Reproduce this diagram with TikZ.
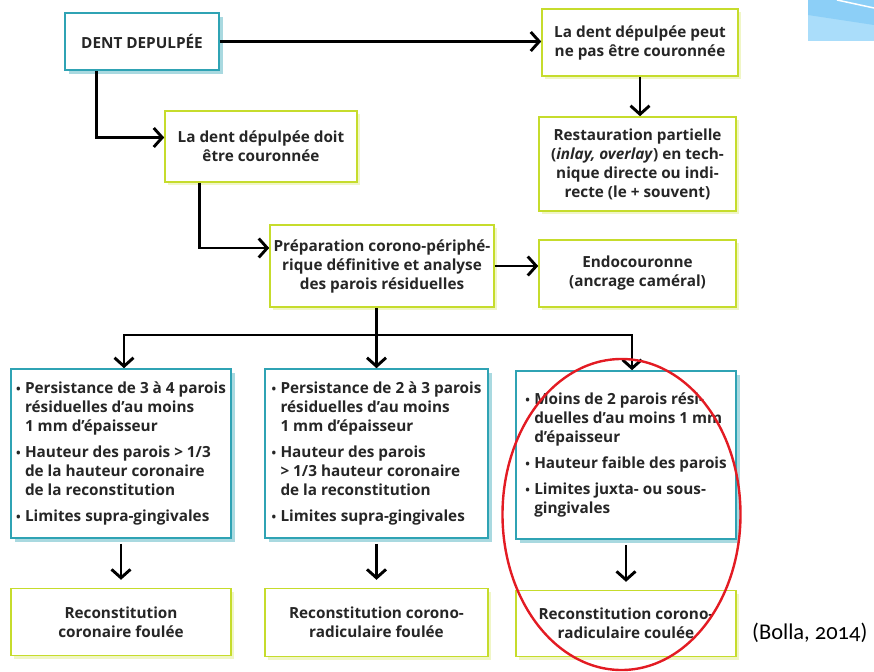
\documentclass[tikz,border=0pt]{standalone}
\usepackage{fontspec}
\setmainfont{Open Sans}
\newfontfamily\citefont{Carlito}[Numbers=OldStyle]
\usetikzlibrary{arrows.meta,positioning,shadows}
\definecolor{tealbord}{HTML}{2FA3B4}
\definecolor{limebord}{HTML}{C6DC2C}
\definecolor{rouge}{HTML}{E31B23}
\definecolor{bleufonce}{HTML}{8CCFF7}
\definecolor{bleuclair}{HTML}{AADDFA}
\newcommand{\puce}{\makebox[9pt][l]{\raisebox{0.5pt}{\scalebox{0.8}{\textbullet}}}}
\newcommand{\suite}{\hspace*{9pt}}
\tikzset{
    bloc/.style = {
        draw,
        line width=1.6pt,
        fill=white,
        align=center,
        text=black!85,
        font=\bfseries\fontsize{15.3}{19}\selectfont,
        inner xsep=2pt,
        },
    bloc teal/.style = {
        bloc,
        draw=tealbord,
        drop shadow={shadow xshift=4pt, shadow yshift=-4pt, fill=tealbord!75, opacity=0.55},
        },
    bloc lime/.style = {
        bloc,
        draw=limebord,
        drop shadow={shadow xshift=3pt, shadow yshift=-3pt, fill=limebord!60, opacity=0.45},
        },
    criteres/.style = {
        bloc teal,
        align=left,
        minimum width=220pt,
        minimum height=169pt,
        },
    fleche/.style = {
        -{Straight Barb[length=8.5pt,width=19pt]},
        line width=2.9pt,
        },
}
\begin{document}
\begin{tikzpicture}[
            x=1pt, y=-1pt,
            node distance=49pt
            ]
            \useasboundingbox (0,0) rectangle (874,671);

            % coin bleu
            \fill [bleuclair] (808,0) rectangle (874,41);
            \fill [bleufonce] (808,0) -- (874,0) -- (874,25) -- (808,15) -- cycle;
            \draw [white, line width=1.5pt] (837,0) -- (874,8);

            % Haut
            \node [bloc teal, minimum width=154pt, minimum height=57pt] (dent) at (142,41.5) {DENT DEPULPÉE};
            \node [bloc lime, minimum width=192pt, minimum height=71pt] (doit) at (261,146.5) {La dent dépulpée doit\\être couronnée};
            \node [bloc lime, minimum width=196pt, minimum height=67pt] (peut) at (640,42.5) {La dent dépulpée peut\\ne pas être couronnée};
            \node [bloc lime, minimum width=197pt, minimum height=94pt] (partielle) at (637.5,164) {Restauration partielle\\(\textit{inlay, overlay}) en tech-\\nique directe ou indi-\\recte (le + souvent)};
            \node [bloc lime, minimum width=224pt, minimum height=82pt] (prep) at (382,266) {Préparation corono-périphé-\\rique définitive et analyse\\des parois résiduelles};
            \node [bloc lime, minimum width=197pt, minimum height=67pt] (endo) at (637.5,273.5) {Endocouronne\\(ancrage caméral)};

            % Colonne 1
            \node [criteres] (c1) at (121,453.5) {\puce Persistance de 3 à 4 parois\\ \suite résiduelles d’au moins\\ \suite 1 mm d’épaisseur\\[7pt] \puce Hauteur des parois > 1/3\\ \suite de la hauteur coronaire\\ \suite de la reconstitution\\[7pt] \puce Limites supra-gingivales};
            \node [bloc lime, minimum width=220pt, minimum height=67pt, below=of c1] (r1) {Reconstitution\\coronaire foulée};

            % Colonne 2
            \node [criteres, minimum width=223pt] (c2) at (376.5,453.5) {\puce Persistance de 2 à 3 parois\\ \suite résiduelles d’au moins\\ \suite 1 mm d’épaisseur\\[7pt] \puce Hauteur des parois\\ \suite > 1/3 hauteur coronaire\\ \suite de la reconstitution\\[7pt] \puce Limites supra-gingivales};
            \node [bloc lime, minimum width=223pt, minimum height=68pt, below=of c2] (r2) {Reconstitution corono-\\radiculaire foulée};

            % Colonne 3
            \node [criteres, minimum height=168pt] (c3) at (626,455) {\puce Moins de 2 parois rési-\\ \suite duelles d’au moins 1 mm\\ \suite d’épaisseur\\[7pt] \puce Hauteur faible des parois\\[7pt] \puce Limites juxta- ou sous-\\ \suite gingivales};
            \node [bloc lime, minimum width=220pt, minimum height=66pt, below=50pt of c3] (r3) {Reconstitution corono-\\radiculaire coulée};

            \coordinate (bus) at (376.5,335);

            \draw [fleche] (dent.east) -- (dent.east -| peut.west);
            \draw [fleche] ([xshift=32pt]dent.south west) |- ([yshift=9pt]doit.west);
            \draw [fleche] ([xshift=35pt]doit.south west) |- ([yshift=18pt]prep.west);
            \draw [fleche] (peut.south) -- (peut.south |- partielle.north);
            \draw [fleche] (prep.east) -- (prep.east -| endo.west);

            \draw [fleche] (prep.south -| bus) -- (c2.north);
            \draw [fleche] (bus) -| ([xshift=3pt]c1.north);
            \draw [fleche] (bus) -| ([xshift=6pt]c3.north);

            \draw [fleche, shorten <=5pt, shorten >=8pt] (c1.south) -- (r1.north);
            \draw [fleche, shorten <=5pt, shorten >=8pt] (c2.south) -- (r2.north);
            \draw [fleche, shorten <=5pt, shorten >=8pt] (c3.south) -- (r3.north);

            % source
            \node [font=\citefont\fontsize{22.5}{26}\selectfont, anchor=west, inner sep=0pt] (source) at (752,633) {(Bolla, 2014)};

            \draw [rouge, line width=2.4pt] (621.5,514.5) ellipse [x radius=119pt, y radius=155.5pt];
\end{tikzpicture}
\end{document}
